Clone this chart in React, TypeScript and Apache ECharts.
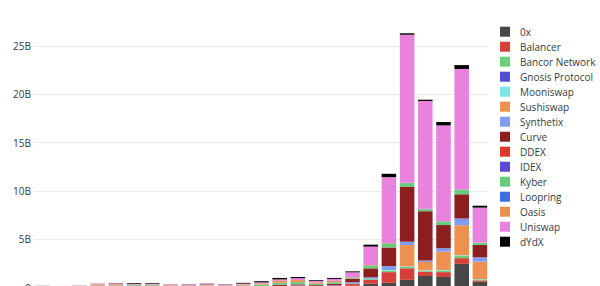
import React, { useEffect, useRef } from "react";
import * as echarts from "echarts";

const months = [
  "Jan 2019", "Feb 2019", "Mar 2019", "Apr 2019", "May 2019", "Jun 2019",
  "Jul 2019", "Aug 2019", "Sep 2019", "Oct 2019", "Nov 2019", "Dec 2019",
  "Jan 2020", "Feb 2020", "Mar 2020", "Apr 2020", "May 2020", "Jun 2020",
  "Jul 2020", "Aug 2020", "Sep 2020", "Oct 2020", "Nov 2020", "Dec 2020",
  "Jan 2021",
];

const yTicks = [0, 5, 10, 15, 20, 25];

// values in billions USD
const zeroX = [.04, .03, .04, .05, .05, .08, .08, .05, .05, .06, .05, .06, .08, .1, .12, .08, .1, .2, .4, .5, .8, 1.2, 1.1, 2.45, .6];
const balancer = [0, 0, 0, 0, 0, 0, 0, 0, 0, 0, 0, 0, 0, 0, .02, .03, .05, .2, .4, 1.1, 1.2, .45, .5, .6, .15];
const bancor = [.03, .02, .03, .04, .04, .04, .04, .03, .03, .03, .03, .03, .03, .04, .05, .03, .04, .05, .1, .17, .15, .1, .17, .25, .1];
const gnosis = [0, 0, 0, 0, 0, 0, 0, 0, 0, 0, 0, 0, .01, .01, .01, .01, .01, .01, .01, 0, 0, 0, 0, 0, 0];
const mooniswap = [0, 0, 0, 0, 0, 0, 0, 0, 0, 0, 0, 0, 0, 0, 0, 0, 0, 0, 0, .05, .05, .05, .05, .05, .03];
const sushiswap = [0, 0, 0, 0, 0, 0, 0, 0, 0, 0, 0, 0, 0, 0, 0, 0, 0, 0, 0, 0, 2.2, .85, 1.9, 3.1, 1.8];
const synthetix = [0, 0, 0, 0, 0, 0, 0, 0, 0, 0, 0, 0, 0, .02, .02, .02, .03, .1, .15, .4, .35, .15, .35, .7, .45];
const curve = [0, 0, 0, 0, 0, 0, 0, 0, 0, 0, 0, 0, .02, .1, .1, .08, .15, .35, .93, 1.93, 5.7, 5.1, 2.4, 2.5, 1.3];
const ddex = [.02, .02, .02, .03, .03, .03, .03, .02, .02, .02, .02, .02, .01, .01, .01, .01, .01, 0, 0, 0, 0, 0, 0, 0, 0];
const idex = [.03, .03, .03, .03, .03, .03, .03, .02, .02, .02, .02, .02, .02, .02, .02, .01, .01, .01, 0, 0, 0, 0, 0, 0, 0];
const kyber = [.02, .02, .03, .06, .08, .08, .07, .05, .05, .07, .06, .1, .15, .2, .2, .12, .15, .1, .28, .4, .35, .2, .35, .45, .2];
const loopring = [0, 0, 0, 0, 0, 0, 0, 0, 0, 0, 0, 0, 0, 0, .01, .01, .01, .01, .02, .02, .02, .02, .02, .03, .02];
const oasis = [.03, .03, .03, .12, .12, .05, .05, .07, .06, .06, .05, .08, .12, .2, .22, .14, .14, .05, .05, .05, .03, .03, .03, .03, .02];
const uniswap = [.01, .01, .02, .05, .1, .07, .08, .06, .07, .1, .08, .1, .1, .15, .2, .16, .2, .5, 1.9, 6.8, 15.3, 11.15, 9.9, 12.45, 3.6];
const dydx = [.01, .01, .01, .02, .03, .06, .07, .02, .03, .04, .03, .08, .12, .15, .12, .08, .1, .1, .2, .35, .15, .13, .35, .4, .2];

const seriesNames = [
  "0x", "Balancer", "Bancor Network", "Gnosis Protocol", "Mooniswap", "Sushiswap",
  "Synthetix", "Curve", "DDEX", "IDEX", "Kyber", "Loopring", "Oasis", "Uniswap", "dYdX",
];
const seriesData = [
  zeroX, balancer, bancor, gnosis, mooniswap, sushiswap, synthetix, curve,
  ddex, idex, kyber, loopring, oasis, uniswap, dydx,
];
const seriesColors = [
  "#474747", "#d6403a", "#6ccf80", "#5050d0", "#7ce8e2", "#ee9150", "#7f9ef0",
  "#8b1f1f", "#e0352f", "#5a4ad8", "#62cd7a", "#3d6ee0", "#e9924f", "#e882dc", "#000000",
];

const FONT = "'Open Sans', verdana, arial, sans-serif";
const TEXT = "#333a44";

export default function App() {
  const ref = useRef<HTMLDivElement>(null);
  useEffect(() => {
    if (!ref.current) return;
    const chart = echarts.init(ref.current, undefined, { renderer: "svg" });
    chart.setOption({
      animation: false,
      backgroundColor: "#ffffff",
      grid: { left: 34, right: 111, top: 17.5, bottom: 32.4 },
      legend: {
        orient: "vertical",
        left: 500,
        top: 44.2,
        padding: 0,
        itemWidth: 10,
        itemHeight: 10,
        itemGap: 0,
        icon: "rect",
        data: seriesNames,
        textStyle: {
          fontFamily: FONT,
          fontSize: 10,
          color: TEXT,
          lineHeight: 15,
          padding: [0, 0, 0, 5],
        },
      },
      xAxis: {
        type: "category",
        data: months,
        axisLine: { show: false },
        axisTick: { show: false },
        axisLabel: { show: false },
      },
      yAxis: {
        type: "value",
        min: 0,
        max: 30,
        interval: 5,
        axisLine: { show: false },
        axisTick: { show: false },
        splitLine: { lineStyle: { color: "#e8eaee", width: 1 } },
        axisLabel: {
          margin: 3,
          fontFamily: FONT,
          fontSize: 10,
          color: TEXT,
          showMaxLabel: false,
          formatter: (v: number) => (yTicks.includes(v) ? (v === 0 ? "0" : v + "B") : ""),
        },
      },
      series: seriesNames.map((name, i) => ({
        name,
        type: "bar",
        stack: "total",
        barCategoryGap: "20%",
        data: seriesData[i],
        itemStyle: { color: seriesColors[i] },
        emphasis: { disabled: true },
      })),
    });
    return () => chart.dispose();
  }, []);
  return (
    <div style={{ position: "absolute", left: 0, top: 0, width: 600, height: 286, overflow: "hidden", background: "#fff" }}>
      <div ref={ref} style={{ position: "absolute", left: 0, top: -20, width: 600, height: 340 }} />
    </div>
  );
}
